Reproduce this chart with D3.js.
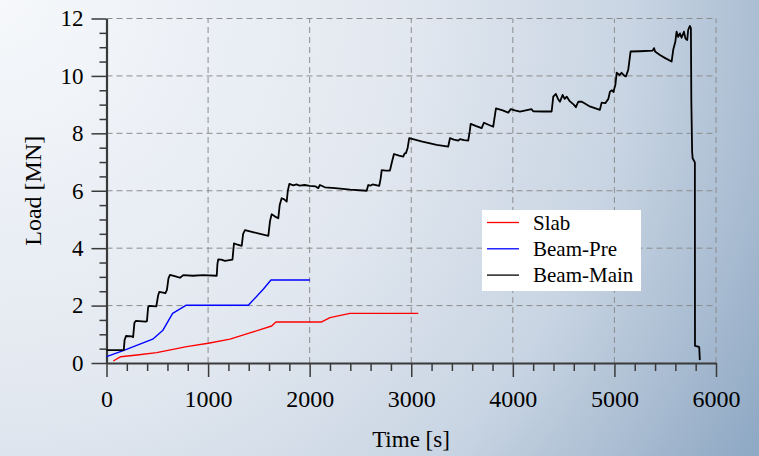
<!DOCTYPE html>
<html>
<head>
<meta charset="utf-8">
<script src="https://cdn.jsdelivr.net/npm/d3@7"></script>
<style>
  html, body { margin: 0; padding: 0; }
  svg { display: block; }
</style>
</head>
<body>
<svg id="chart" width="759" height="456"></svg>
<script>
// data (time in s, load in MN)
const slabTime = [67, 140, 300, 494, 789, 1002, 1216, 1396, 1626, 1668, 2118, 2200, 2397, 3069];
const slabLoad = [0.07, 0.22, 0.28, 0.36, 0.57, 0.69, 0.83, 1.03, 1.29, 1.43, 1.43, 1.58, 1.73, 1.73];

const preTime = [0, 165, 455, 553, 651, 782, 1396, 1543, 1619, 2003];
const preLoad = [0.22, 0.43, 0.83, 1.13, 1.73, 2.01, 2.01, 2.57, 2.89, 2.89];

const mainTime = [0, 170, 178, 192, 250, 262, 275, 290, 385, 398, 410, 421, 490, 508, 520, 580, 595, 610, 625, 680,
  723, 756, 850, 950, 1085, 1092, 1100, 1130, 1166, 1240, 1255, 1290, 1331, 1345, 1363, 1450, 1593, 1610, 1626, 1660,
  1691, 1705, 1724, 1750, 1774, 1785, 1800, 1840, 1870, 1900, 1950, 2000, 2060, 2085, 2101, 2150, 2250, 2400, 2561, 2577,
  2600, 2620, 2685, 2700, 2709, 2750, 2790, 2810, 2830, 2880, 2921, 2935, 2948, 2965, 2980, 3100, 3250, 3364, 3381, 3420,
  3463, 3480, 3520, 3561, 3575, 3585, 3640, 3693, 3716, 3760, 3807, 3820, 3834, 3900, 3955, 3978, 4020, 4070, 4185, 4200,
  4300, 4382, 4398, 4424, 4445, 4464, 4490, 4510, 4530, 4560, 4600, 4621, 4644, 4680, 4750, 4857, 4874, 4910, 4940, 4956,
  4975, 4990, 5010, 5022, 5050, 5070, 5100, 5113, 5136, 5159, 5250, 5376, 5390, 5400, 5448, 5500, 5563, 5579, 5600, 5612,
  5628, 5645, 5661, 5684, 5700, 5717, 5726, 5743, 5753, 5757, 5765, 5770, 5792, 5793, 5825, 5835, 5841];
const mainLoad = [0.45, 0.45, 0.80, 0.94, 0.93, 0.90, 1.40, 1.47, 1.44, 1.46, 1.95, 1.99, 1.97, 2.35, 2.48, 2.43, 2.55, 2.95, 3.07, 3.02,
  2.97, 3.06, 3.04, 3.06, 3.04, 3.45, 3.61, 3.60, 3.56, 3.60, 4.17, 4.12, 4.08, 4.50, 4.63, 4.55, 4.43, 4.95, 5.18, 5.10,
  5.04, 5.50, 5.74, 5.70, 5.62, 6.00, 6.24, 6.19, 6.22, 6.18, 6.20, 6.17, 6.15, 6.09, 6.20, 6.12, 6.09, 6.04, 6.00, 6.20,
  6.18, 6.22, 6.17, 6.45, 6.72, 6.70, 6.70, 7.00, 7.28, 7.22, 7.19, 7.30, 7.31, 7.50, 7.83, 7.72, 7.60, 7.54, 7.83, 7.78,
  7.75, 7.80, 7.76, 7.75, 8.05, 8.33, 8.25, 8.18, 8.37, 8.30, 8.23, 8.55, 8.87, 8.80, 8.72, 8.84, 8.80, 8.76, 8.84, 8.77,
  8.76, 8.76, 9.28, 9.37, 9.20, 9.10, 9.34, 9.20, 9.28, 9.12, 9.00, 8.91, 9.10, 9.10, 8.95, 8.82, 9.07, 9.05, 9.20, 9.45,
  9.50, 9.44, 9.70, 10.11, 10.03, 10.11, 10.00, 9.98, 10.21, 10.85, 10.86, 10.88, 10.97, 10.85, 10.73, 10.62, 10.50, 10.91, 11.20, 11.54,
  11.36, 11.48, 11.33, 11.54, 11.30, 11.25, 11.60, 11.74, 11.66, 9.16, 7.36, 7.13, 6.99, 0.60, 0.57, 0.55, 0.10];

const seriesNames = ["Slab", "Beam-Pre", "Beam-Main"];
const seriesColors = ["#ff0000", "#0000ff", "#000000"];

const xTicks = [0, 1000, 2000, 3000, 4000, 5000, 6000];
const yTicks = [0, 2, 4, 6, 8, 10, 12];

const svg = d3.select("#chart");
const W = 759, H = 456;
const serif = "'Liberation Serif', 'Times New Roman', serif";

// background
const defs = svg.append("defs");
const grad = defs.append("radialGradient")
  .attr("id", "bg")
  .attr("gradientUnits", "userSpaceOnUse")
  .attr("cx", 0).attr("cy", 0).attr("r", 900);
grad.append("stop").attr("offset", 0).attr("stop-color", "#f6f8fb");
grad.append("stop").attr("offset", 0.45).attr("stop-color", "#e2e8f0");
grad.append("stop").attr("offset", 0.7).attr("stop-color", "#c9d5e3");
grad.append("stop").attr("offset", 0.97).attr("stop-color", "#90a9c4");
svg.append("rect").attr("width", W).attr("height", H).attr("fill", "url(#bg)");

const x = d3.scaleLinear().domain([0, 6000]).range([106.5, 716]);
const y = d3.scaleLinear().domain([0, 12]).range([363, 18.5]);

// grid
const grid = svg.append("g")
  .attr("stroke", "#8c8c8c")
  .attr("stroke-width", 1)
  .attr("stroke-dasharray", "6,4");
grid.selectAll("line.gx")
  .data(xTicks.slice(1))
  .join("line")
  .attr("class", "gx")
  .attr("x1", (d) => x(d)).attr("x2", (d) => x(d))
  .attr("y1", y(0)).attr("y2", y(12));
grid.selectAll("line.gy")
  .data(yTicks.slice(1))
  .join("line")
  .attr("class", "gy")
  .attr("x1", x(0)).attr("x2", x(6000))
  .attr("y1", (d) => y(d)).attr("y2", (d) => y(d));

// minor ticks
const xMinor = d3.range(200, 6000, 200).filter((d) => d % 1000 !== 0);
const yMinor = d3.range(0.5, 12, 0.5).filter((d) => d % 2 !== 0);

const axisColor = "#3a3a3a";

svg.append("g")
  .attr("transform", `translate(0,${y(0)})`)
  .call(d3.axisBottom(x).tickValues(xMinor).tickSize(8).tickFormat(""))
  .call((g) => g.select(".domain").remove())
  .call((g) => g.selectAll("line").attr("stroke", axisColor).attr("stroke-width", 1.5));

svg.append("g")
  .attr("transform", `translate(${x(0)},0)`)
  .call(d3.axisLeft(y).tickValues(yMinor).tickSize(7).tickFormat(""))
  .call((g) => g.select(".domain").remove())
  .call((g) => g.selectAll("line").attr("stroke", axisColor).attr("stroke-width", 1.5));

// major axes
const xAxis = svg.append("g")
  .attr("transform", `translate(0,${y(0)})`)
  .call(d3.axisBottom(x).tickValues(xTicks).tickSize(14).tickSizeOuter(0).tickPadding(13).tickFormat(d3.format("d")));
xAxis.select(".domain").attr("stroke", axisColor).attr("stroke-width", 2.2);
xAxis.selectAll("line").attr("stroke", axisColor).attr("stroke-width", 1.5);
xAxis.selectAll("text").attr("font-family", serif).attr("font-size", 24).attr("fill", "#000");

const yAxis = svg.append("g")
  .attr("transform", `translate(${x(0)},0)`)
  .call(d3.axisLeft(y).tickValues(yTicks).tickSize(15).tickSizeOuter(0).tickPadding(8).tickFormat(d3.format("d")));
yAxis.select(".domain").attr("stroke", axisColor).attr("stroke-width", 2.2);
yAxis.selectAll("line").attr("stroke", axisColor).attr("stroke-width", 1.5);
yAxis.selectAll("text").attr("font-family", serif).attr("font-size", 23).attr("fill", "#000");

// series
const series = [
  { times: slabTime, loads: slabLoad, width: 1.4 },
  { times: preTime, loads: preLoad, width: 1.4 },
  { times: mainTime, loads: mainLoad, width: 1.8 }
];
const line = d3.line().x((d) => x(d[0])).y((d) => y(d[1]));

series.forEach((s, i) => {
  svg.append("path")
    .datum(d3.zip(s.times, s.loads))
    .attr("fill", "none")
    .attr("stroke", seriesColors[i])
    .attr("stroke-width", s.width)
    .attr("stroke-linejoin", "round")
    .attr("d", line);
});

// axis titles
svg.append("text")
  .attr("x", 411).attr("y", 447)
  .attr("text-anchor", "middle")
  .attr("font-family", serif).attr("font-size", 23)
  .text("Time [s]");

svg.append("text")
  .attr("transform", `translate(41,${(y(0) + y(12)) / 2}) rotate(-90)`)
  .attr("text-anchor", "middle")
  .attr("font-family", serif).attr("font-size", 24)
  .text("Load [MN]");

// legend
const legend = svg.append("g").attr("transform", "translate(482,210)");
legend.append("rect").attr("width", 159).attr("height", 81).attr("fill", "#fff");
const items = legend.selectAll("g.item")
  .data(seriesNames)
  .join("g")
  .attr("class", "item")
  .attr("transform", (d, i) => `translate(0,${12.5 + i * 26.3})`);
items.append("line")
  .attr("x1", 5).attr("x2", 37)
  .attr("stroke", (d, i) => seriesColors[i])
  .attr("stroke-width", 1.3);
items.append("text")
  .attr("x", 51).attr("y", 7)
  .attr("font-family", serif).attr("font-size", 21)
  .text((d) => d);
</script>
</body>
</html>
